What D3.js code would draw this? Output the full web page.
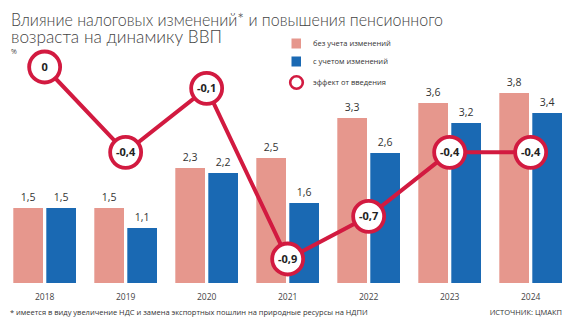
<!DOCTYPE html>
<html><head><meta charset="utf-8">
<script src="https://cdn.jsdelivr.net/npm/d3@7"></script>
<style>body{margin:0;background:#fff}svg{display:block}</style>
</head><body>
<svg id="c" width="570" height="326"></svg>
<script>
const years = ["2018","2019","2020","2021","2022","2023","2024"];
const withoutChanges = [1.5,1.5,2.3,2.5,3.3,3.6,3.8];
const withChanges = [1.5,1.1,2.2,1.6,2.6,3.2,3.4];
const effect = [0,-0.4,-0.1,-0.9,-0.7,-0.4,-0.4];
const seriesNames = ["без учета изменений","с учетом изменений","эффект от введения"];
const titleLines = ["Влияние налоговых изменений* и повышения пенсионного","возраста на динамику ВВП"];

const pink = "#e6978d", blue = "#1a69b3", red = "#d21a40";
const fmt = v => String(v).replace(".", ",");
const svg = d3.select("#c");
const font = "'Open Sans', sans-serif";

// title
const tl = [[25.7, 432], [43.3, 211]];
titleLines.forEach((t, i) => {
  svg.append("text").attr("x", 11).attr("y", tl[i][0])
    .attr("font-family", "Lato, sans-serif").attr("font-weight", 300)
    .attr("font-size", 18).attr("fill", "#444")
    .attr("textLength", tl[i][1]).attr("lengthAdjust", "spacingAndGlyphs").text(t);
});
svg.append("text").attr("x", 11).attr("y", 54).attr("font-family", font).attr("font-size", 7).attr("fill", "#444").text("%");

const x0 = d3.scaleBand().domain(years).range([13.3, 562]).paddingInner(0.226).paddingOuter(0);
const x1 = d3.scaleBand().domain(["a","b"]).range([0, x0.bandwidth()]).paddingInner(0.1);
const y = d3.scaleLinear().domain([0, 4]).range([283, 83]);
const ye = d3.scaleLinear().domain([0, -0.9]).range([67, 259]);

const g = svg.append("g");
years.forEach((yr, i) => {
  [[withoutChanges[i], "a", pink], [withChanges[i], "b", blue]].forEach(([v, k, c]) => {
    const bx = x0(yr) + x1(k);
    g.append("rect").attr("x", bx).attr("y", y(v)).attr("width", x1.bandwidth())
      .attr("height", y(0) - y(v)).attr("fill", c);
    g.append("text").attr("x", bx + x1.bandwidth() / 2).attr("y", y(v) - 7)
      .attr("text-anchor", "middle").attr("font-family", font).attr("font-size", 10.5)
      .attr("fill", "#333").text(fmt(v));
  });
});

// x axis labels
const xa = svg.append("g").attr("transform", "translate(0,283)")
  .call(d3.axisBottom(x0).tickSize(0).tickPadding(11));
xa.select(".domain").remove();
xa.selectAll("text").attr("font-family", font).attr("font-size", 8.5).attr("fill", "#444");

// effect line
const cx = yr => x0(yr) + x0.bandwidth() / 2;
const line = d3.line().x((d, i) => cx(years[i])).y(d => ye(d));
svg.append("path").datum(effect).attr("d", line).attr("fill", "none")
  .attr("stroke", red).attr("stroke-width", 4);
const pts = svg.append("g").selectAll("g").data(effect).join("g")
  .attr("transform", (d, i) => `translate(${cx(years[i])},${ye(d)})`);
pts.append("circle").attr("r", 15.5).attr("fill", "#fff").attr("stroke", red).attr("stroke-width", 3.8);
pts.append("text").attr("text-anchor", "middle").attr("dy", "0.36em")
  .attr("font-family", font).attr("font-weight", 700).attr("font-size", 11)
  .attr("fill", "#222").text(d => fmt(d));

// legend
const lg = svg.append("g").attr("font-family", font).attr("font-size", 7.5).attr("fill", "#333");
lg.append("rect").attr("x", 291.5).attr("y", 38.5).attr("width", 9.5).attr("height", 10).attr("fill", pink);
lg.append("rect").attr("x", 291.5).attr("y", 56.5).attr("width", 9.5).attr("height", 10).attr("fill", blue);
lg.append("circle").attr("cx", 296.5).attr("cy", 82.5).attr("r", 6.3).attr("fill", "#fff").attr("stroke", red).attr("stroke-width", 2.6);
[43.5, 61.5, 82.5].forEach((yy, i) => {
  lg.append("text").attr("x", 313).attr("y", yy).attr("dy", "0.35em").text(seriesNames[i]);
});

// footnote
svg.append("text").attr("x", 10).attr("y", 314.5).attr("font-family", font).attr("font-size", 7.5)
  .attr("fill", "#333").text("* имеется в виду увеличение НДС и замена экспортных пошлин на природные ресурсы на НДПИ");
svg.append("text").attr("x", 562).attr("y", 314.5).attr("text-anchor", "end").attr("font-family", font)
  .attr("font-size", 7.5).attr("fill", "#333").text("ИСТОЧНИК: ЦМАКП");
</script>
</body></html>
